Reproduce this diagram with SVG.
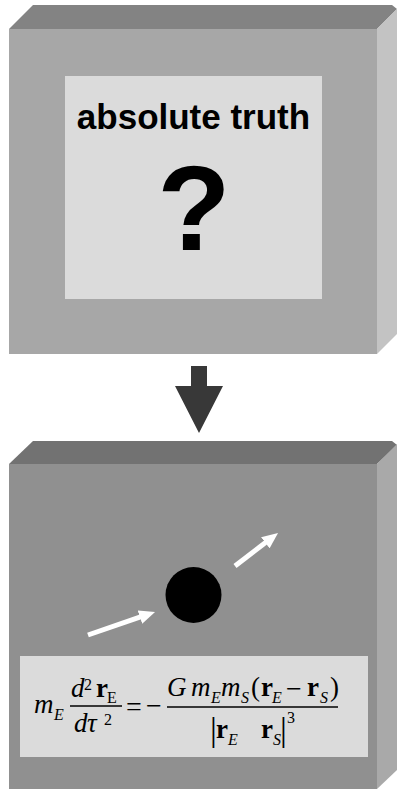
<svg xmlns="http://www.w3.org/2000/svg" width="397" height="789" viewBox="0 0 397 789">
  <style>
    .t1 { fill: #838383; }
    .f1 { fill: #a7a7a7; }
    .s1 { fill: #c3c3c3; }
    .t2 { fill: #727272; }
    .f2 { fill: #909090; }
    .s2 { fill: #a9a9a9; }
    .panel { fill: #dbdbdb; }
    .sans { font-family: "Liberation Sans", Arial, sans-serif; font-weight: bold; fill: #000; }
    .m { font-family: "Liberation Serif", "Times New Roman", serif; fill: #000; }
    .it { font-style: italic; }
    .bd { font-weight: bold; }
    .wa { stroke: #ffffff; stroke-width: 5; fill: none; }
  </style>
  <defs>
    <marker id="wh" viewBox="0 0 16 14" refX="6" refY="7" markerWidth="16" markerHeight="14" markerUnits="userSpaceOnUse" orient="auto">
      <path d="M0,0 L16,7 L0,14 z" fill="#ffffff"/>
    </marker>
  </defs>
  <rect x="0" y="0" width="397" height="789" fill="#ffffff"/>

  <g id="box-truth">
    <polygon class="t1" points="9,29 33,5 392,5 397,9 377,29"/>
    <polygon class="s1" points="377,29 397,9 397,334 377,354"/>
    <rect class="f1" x="9" y="29" width="368" height="325"/>
    <rect class="panel" x="65" y="76" width="257" height="223"/>
    <text class="sans" x="193.5" y="129" font-size="35" text-anchor="middle">absolute truth</text>
    <text class="sans" x="194" y="250" font-size="120" text-anchor="middle">?</text>
  </g>

  <g id="connectors">
    <polygon fill="#383838" points="191,366 207,366 207,386 223,386 199,433 175,386 191,386"/>
  </g>

  <g id="box-model">
    <polygon class="t2" points="9,464 33,441 392,441 397,445 377,464"/>
    <polygon class="s2" points="377,464 397,444 397,770 377,789"/>
    <rect class="f2" x="9" y="464" width="368" height="325"/>
  </g>

  <g id="body">
    <circle cx="193.5" cy="595" r="28" fill="#000000"/>
    <line class="wa" x1="88" y1="635" x2="145.6" y2="615.2" marker-end="url(#wh)"/>
    <line class="wa" x1="235" y1="566" x2="270.1" y2="539.1" marker-end="url(#wh)"/>
  </g>

  <g id="equation">
    <rect class="panel" x="20" y="656" width="348" height="101"/>
    <text class="m it" x="34" y="713" font-size="27">m</text>
    <text class="m it" x="54" y="720" font-size="16">E</text>

    <text class="m it" x="71" y="697" font-size="27">d</text>
    <text class="m" x="84" y="690" font-size="16">2</text>
    <text class="m bd" x="96" y="697" font-size="27">r</text>
    <text class="m" x="107" y="703" font-size="16">E</text>
    <line x1="70" y1="706" x2="122" y2="706" stroke="#000" stroke-width="1.4"/>
    <text class="m it" x="74" y="732" font-size="27">d</text>
    <text class="m it" x="87" y="732" font-size="27">τ</text>
    <text class="m" x="104" y="725" font-size="16">2</text>

    <text class="m" x="126" y="716" font-size="28">=</text>
    <text class="m" x="146" y="715" font-size="28">−</text>

    <text class="m it" x="167" y="696" font-size="27">G</text>
    <text class="m it" x="191" y="696" font-size="27">m</text>
    <text class="m it" x="211" y="703" font-size="16">E</text>
    <text class="m it" x="221" y="696" font-size="27">m</text>
    <text class="m it" x="241" y="703" font-size="16">S</text>
    <text class="m" x="251" y="696" font-size="27">(</text>
    <text class="m bd" x="261" y="696" font-size="27">r</text>
    <text class="m it" x="272" y="703" font-size="16">E</text>
    <text class="m" x="286" y="698" font-size="28">−</text>
    <text class="m bd" x="307" y="696" font-size="27">r</text>
    <text class="m it" x="320" y="703" font-size="16">S</text>
    <text class="m" x="330" y="696" font-size="27">)</text>
    <line x1="167" y1="707" x2="338" y2="707" stroke="#000" stroke-width="1.4"/>

    <text class="m" x="210" y="741" font-size="34">|</text>
    <text class="m bd" x="216" y="738" font-size="27">r</text>
    <text class="m it" x="228" y="745" font-size="16">E</text>
    <text class="m bd" x="261" y="738" font-size="27">r</text>
    <text class="m it" x="273" y="745" font-size="16">S</text>
    <text class="m" x="280" y="741" font-size="34">|</text>
    <text class="m" x="287" y="723" font-size="16">3</text>
  </g>
</svg>
